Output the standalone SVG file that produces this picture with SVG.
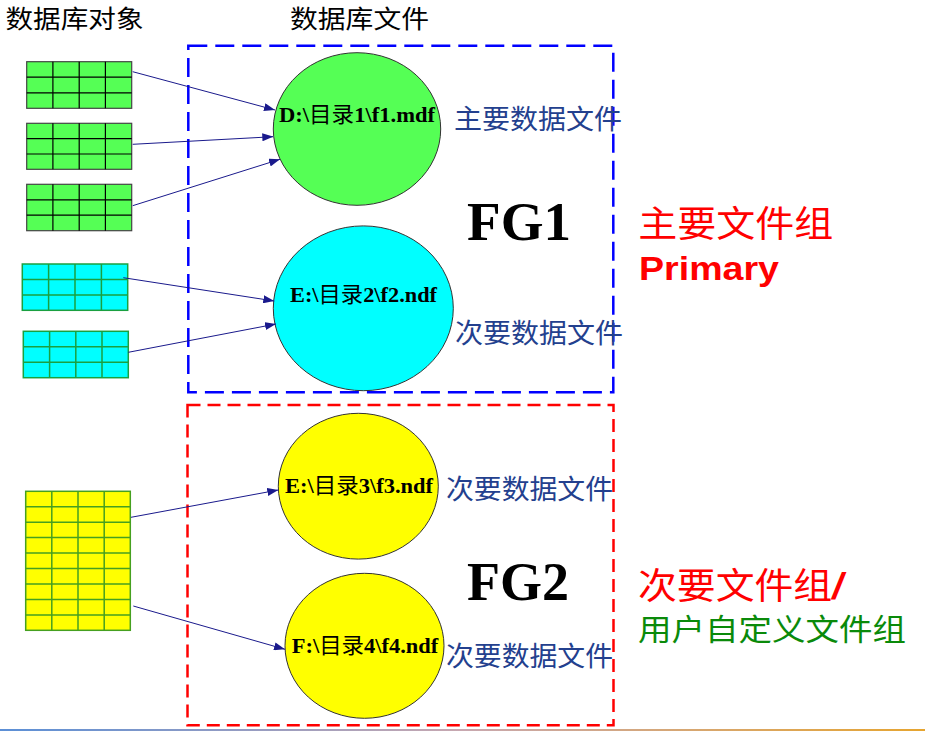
<svg xmlns="http://www.w3.org/2000/svg" width="925" height="731" viewBox="0 0 925 731">
<defs>
<style>
.cap{font-family:"Noto Sans CJK SC","Noto Sans",sans-serif;fill:#000;font-size:25px}
.fl{font-family:"Noto Sans CJK SC","Noto Sans",sans-serif;fill:#23408e;font-size:27px}
.ct{font-family:"Liberation Serif","Noto Sans CJK SC",serif;font-weight:bold;font-size:22px;fill:#000}
.ct tspan{font-family:"Noto Sans CJK SC",sans-serif;font-weight:normal}
.fg{font-family:"Liberation Serif",serif;font-weight:bold;font-size:54px;fill:#000}
.red{font-family:"Noto Sans CJK SC",sans-serif;fill:#ff0000;font-size:36px}
.red tspan{font-family:"Liberation Sans",Arial,sans-serif;font-weight:bold;font-style:italic}
.grn{font-family:"Noto Sans CJK SC",sans-serif;fill:#0a8a0a;font-size:30px}
.pri{font-family:"Liberation Sans",Arial,sans-serif;font-weight:bold;fill:#ff0000;font-size:33px}
.conn{stroke:#1a1a8c;stroke-width:1;fill:none;marker-end:url(#ah)}
.gt rect{fill:#55ff55;stroke:#444;stroke-width:1.2}
.gt path{stroke:#000;stroke-width:1.2;fill:none}
.cy rect{fill:#00ffff;stroke:#1aa040;stroke-width:1.5}
.cy path{stroke:#1aa040;stroke-width:1.5;fill:none}
.yt rect{fill:#ffff00;stroke:#45a020;stroke-width:1.5}
.yt path{stroke:#45a020;stroke-width:1.5;fill:none}
.circ{stroke:#333;stroke-width:1}
</style>
<marker id="ah" markerUnits="userSpaceOnUse" markerWidth="11" markerHeight="8" refX="11" refY="4" orient="auto">
<path d="M0,0 L11,4 L0,8 z" fill="#1a1a8c"/>
</marker>
<linearGradient id="bl" x1="0" y1="0" x2="1" y2="0">
<stop offset="0" stop-color="#5b8fd6"/>
<stop offset="0.5" stop-color="#c8a8b0"/>
<stop offset="1" stop-color="#e6a530"/>
</linearGradient>
</defs>

<rect x="0" y="0" width="925" height="731" fill="#fff"/>

<text class="cap" x="5.5" y="28" textLength="138" lengthAdjust="spacingAndGlyphs">数据库对象</text>
<text class="cap" x="290" y="28" textLength="139" lengthAdjust="spacingAndGlyphs">数据库文件</text>

<g id="fg1-box">
<rect x="188.3" y="45.7" width="425" height="346.6" fill="none" stroke="#0000ff" stroke-width="2.5" stroke-dasharray="19 8"/>
</g>
<g id="fg2-box">
<rect x="187.5" y="405" width="426" height="320.3" fill="none" stroke="#ff0000" stroke-width="2.5" stroke-dasharray="13 7"/>
</g>

<g id="tbl1" class="gt">
<rect x="26.7" y="61.7" width="105" height="46.6"/>
<path d="M52.9,61.7V108.3M79.2,61.7V108.3M105.4,61.7V108.3M26.7,77.2H131.7M26.7,92.8H131.7"/>
</g>
<g id="tbl2" class="gt">
<rect x="26.7" y="123.3" width="105" height="46"/>
<path d="M52.9,123.3V169.3M79.2,123.3V169.3M105.4,123.3V169.3M26.7,138.6H131.7M26.7,154H131.7"/>
</g>
<g id="tbl3" class="gt">
<rect x="26.7" y="184.3" width="105" height="46.4"/>
<path d="M52.9,184.3V230.7M79.2,184.3V230.7M105.4,184.3V230.7M26.7,199.8H131.7M26.7,215.2H131.7"/>
</g>
<g id="tbl4" class="cy">
<rect x="22.3" y="264" width="105.4" height="46.3"/>
<path d="M48.6,264V310.3M75,264V310.3M101.4,264V310.3M22.3,279.4H127.7M22.3,294.9H127.7"/>
</g>
<g id="tbl5" class="cy">
<rect x="23.3" y="331.3" width="105" height="46.4"/>
<path d="M49.6,331.3V377.7M75.8,331.3V377.7M102,331.3V377.7M23.3,346.8H128.3M23.3,362.2H128.3"/>
</g>
<g id="tbl6" class="yt">
<rect x="25.7" y="491.3" width="104.6" height="139"/>
<path d="M51.8,491.3V630.3M78,491.3V630.3M104.2,491.3V630.3M25.7,506.7H130.3M25.7,522.2H130.3M25.7,537.6H130.3M25.7,553.1H130.3M25.7,568.5H130.3M25.7,584H130.3M25.7,599.4H130.3M25.7,614.9H130.3"/>
</g>

<g id="f1">
<ellipse class="circ" cx="357" cy="129" rx="83.7" ry="76.3" fill="#55ff55"/>
<text class="ct" x="279" y="122.3" textLength="156" lengthAdjust="spacingAndGlyphs">D:\<tspan>目录</tspan>1\f1.mdf</text>
<text class="fl" x="454" y="128.5" textLength="168" lengthAdjust="spacingAndGlyphs">主要数据文件</text>
</g>
<g id="f2">
<ellipse class="circ" cx="363.3" cy="308.3" rx="90" ry="82.4" fill="#00ffff"/>
<text class="ct" x="290" y="301.7" textLength="147" lengthAdjust="spacingAndGlyphs">E:\<tspan>目录</tspan>2\f2.ndf</text>
<text class="fl" x="455" y="342.5" textLength="168" lengthAdjust="spacingAndGlyphs">次要数据文件</text>
</g>
<g id="f3">
<ellipse class="circ" cx="358.3" cy="486.2" rx="80" ry="72.9" fill="#ffff00"/>
<text class="ct" x="285" y="493.3" textLength="148" lengthAdjust="spacingAndGlyphs">E:\<tspan>目录</tspan>3\f3.ndf</text>
<text class="fl" x="446" y="498.5" textLength="167" lengthAdjust="spacingAndGlyphs">次要数据文件</text>
</g>
<g id="f4">
<ellipse class="circ" cx="364.5" cy="645.8" rx="79.5" ry="72.5" fill="#ffff00"/>
<text class="ct" x="291.7" y="653.3" textLength="146.6" lengthAdjust="spacingAndGlyphs">F:\<tspan>目录</tspan>4\f4.ndf</text>
<text class="fl" x="446" y="666" textLength="167" lengthAdjust="spacingAndGlyphs">次要数据文件</text>
</g>

<g id="fg1-label">
<text class="fg" x="467" y="240" textLength="104" lengthAdjust="spacingAndGlyphs">FG1</text>
<text class="red" x="638.3" y="237" textLength="195" lengthAdjust="spacingAndGlyphs">主要文件组</text>
<text class="pri" x="639" y="280" textLength="140" lengthAdjust="spacingAndGlyphs">Primary</text>
</g>
<g id="fg2-label">
<text class="fg" x="467" y="600" textLength="102" lengthAdjust="spacingAndGlyphs">FG2</text>
<text class="red" x="638" y="599" textLength="205" lengthAdjust="spacingAndGlyphs">次要文件组<tspan>/</tspan></text>
<text class="grn" x="638" y="640" textLength="268" lengthAdjust="spacingAndGlyphs">用户自定义文件组</text>
</g>

<g id="connectors">
<line class="conn" x1="132.7" y1="71.7" x2="275" y2="110"/>
<line class="conn" x1="132.7" y1="144.3" x2="273.3" y2="136.7"/>
<line class="conn" x1="132.7" y1="205.7" x2="280" y2="159.3"/>
<line class="conn" x1="123.3" y1="277.7" x2="274.3" y2="301"/>
<line class="conn" x1="128.3" y1="352.3" x2="276" y2="324"/>
<line class="conn" x1="131" y1="517.3" x2="278.3" y2="490"/>
<line class="conn" x1="133.3" y1="606" x2="285" y2="649.3"/>
</g>

<rect x="0" y="729" width="925" height="2" fill="url(#bl)"/>
</svg>
